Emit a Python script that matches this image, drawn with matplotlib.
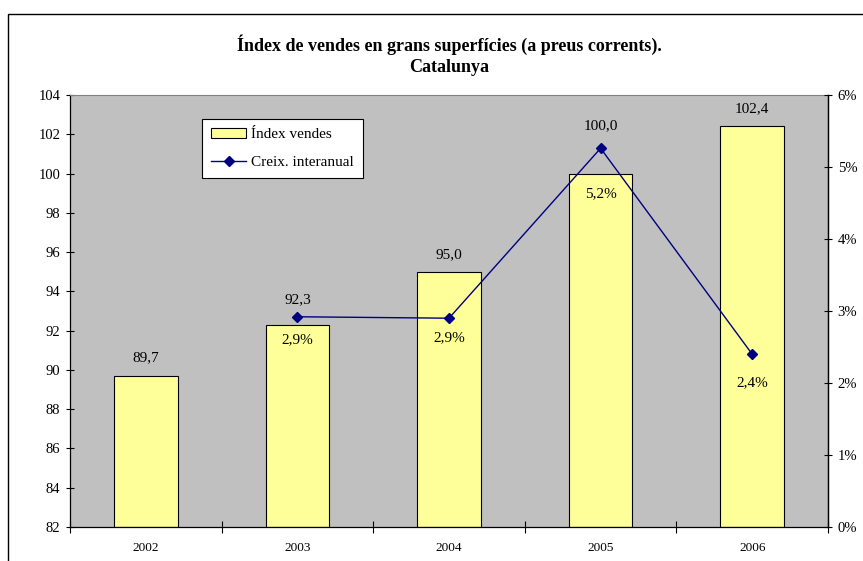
import matplotlib
matplotlib.use("Agg")
import matplotlib.pyplot as plt
from matplotlib.patches import Rectangle
from matplotlib.lines import Line2D
from matplotlib.ticker import FixedLocator, FuncFormatter

years = ["2002", "2003", "2004", "2005", "2006"]
index_values = [89.7, 92.3, 95.0, 100.0, 102.4]
growth_years = ["2003", "2004", "2005", "2006"]
growth_pct = [2.92, 2.90, 5.26, 2.40]
growth_labels = ["2,9%", "2,9%", "5,2%", "2,4%"]
index_labels = ["89,7", "92,3", "95,0", "100,0", "102,4"]

# label placement offsets (pixels), as placed in the original chart
index_label_offsets = [18, 25, 17, 48, 18]
growth_label_offsets = [23, 19, 45, 28]

plt.rcParams['font.family'] = ['Liberation Serif', 'DejaVu Serif']

W, H = 863, 561
fig = plt.figure(figsize=(W / 100, H / 100), dpi=100)
fig.patch.set_facecolor('white')

# outer chart border (cropped at right/bottom)
fig.add_artist(Rectangle((8 / W, -0.1), 1.2, (H - 14) / H + 0.1, transform=fig.transFigure,
                         fill=False, edgecolor='black', linewidth=1.0))

left, right, top, bottom = 70, 828, 95, 527
ax = fig.add_axes([left / W, 1 - bottom / H, (right - left) / W, (bottom - top) / H])
ax.set_facecolor('#C0C0C0')

x = list(range(len(years)))
ax.bar(x, [v - 82 for v in index_values], bottom=82, width=0.42, color='#FFFF99',
       edgecolor='black', linewidth=0.8, zorder=2)
ax.set_xlim(-0.5, len(years) - 0.5)
ax.set_ylim(82, 104)
ax.yaxis.set_major_locator(FixedLocator(range(82, 105, 2)))
ax.set_xticks(x)
ax.set_xticklabels(years, fontsize=9.5)
ax.tick_params(axis='x', which='major', length=0, pad=11)
ax.xaxis.set_minor_locator(FixedLocator([i + 0.5 for i in range(-1, len(years))]))
ax.tick_params(axis='x', which='minor', length=8, direction='inout', width=0.8)
ax.tick_params(axis='y', labelsize=10.5, length=6, direction='inout', width=0.8, pad=4)

for i, (v, lab, off) in enumerate(zip(index_values, index_labels, index_label_offsets)):
    ax.annotate(lab, (i, v), xytext=(0, off), textcoords='offset pixels', ha='center',
                va='center', fontsize=11)

for s in ['left', 'bottom', 'right']:
    ax.spines[s].set_color('black')
    ax.spines[s].set_linewidth(0.9)
ax.spines['top'].set_color('#808080')
ax.spines['top'].set_linewidth(0.8)

ax2 = ax.twinx()
ax2.set_ylim(0, 6)
ax2.yaxis.set_major_locator(FixedLocator(range(0, 7)))
ax2.yaxis.set_major_formatter(FuncFormatter(lambda v, p: f"{int(v)}%"))
ax2.tick_params(axis='y', labelsize=10.5, length=6, direction='inout', width=0.8, pad=4)
for s in ['left', 'top', 'bottom']:
    ax2.spines[s].set_visible(False)
ax2.spines['right'].set_color('black')
ax2.spines['right'].set_linewidth(0.9)

gx = [years.index(y) for y in growth_years]
ax2.plot(gx, growth_pct, color='#000080', linewidth=1.0, marker='D', markersize=5,
         markerfacecolor='#000080', markeredgecolor='#000080', zorder=3)
for xi, v, lab, off in zip(gx, growth_pct, growth_labels, growth_label_offsets):
    ax2.annotate(lab, (xi, v), xytext=(0, -off), textcoords='offset pixels', ha='center',
                 va='center', fontsize=11)

# legend
handles = [Rectangle((0, 0), 1, 1, facecolor='#FFFF99', edgecolor='black', linewidth=0.8),
           Line2D([0], [0], color='#000080', linewidth=1.0, marker='D', markersize=5)]
leg = ax2.legend(handles, ["Índex vendes", "Creix. interanual"], loc='upper left',
                 bbox_to_anchor=((202 - left) / (right - left), 1 - (119 - top) / (bottom - top)),
                 fontsize=11, frameon=True, fancybox=False, framealpha=1, edgecolor='black',
                 borderpad=0.6, handlelength=2.3, labelspacing=0.95, handletextpad=0.3,
                 borderaxespad=0, handleheight=0.6)
leg.get_frame().set_linewidth(0.8)

fig.text(449 / W, 1 - 45 / H, "Índex de vendes en grans superfícies (a preus corrents).",
         ha='center', va='center', fontsize=13, fontweight='bold')
fig.text(449 / W, 1 - 68 / H, "Catalunya", ha='center', va='center', fontsize=13,
         fontweight='bold')

fig.savefig("out.png", dpi=100)
